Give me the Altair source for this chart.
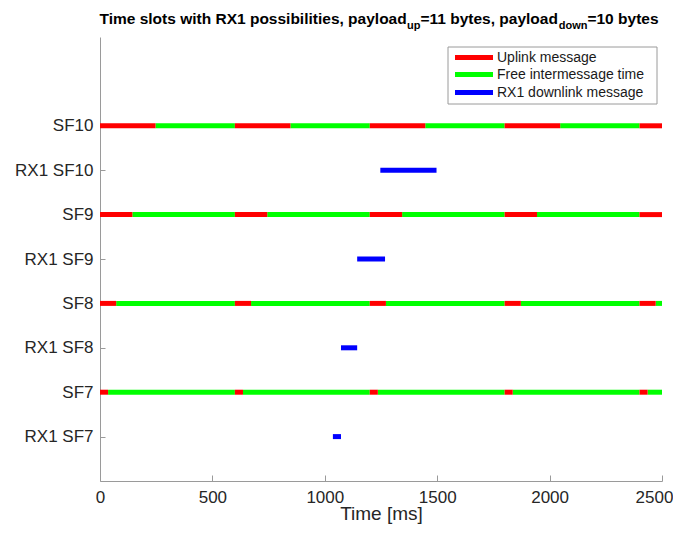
import altair as alt
import pandas as pd

# ---------------- data ----------------
ROW_LABELS = ["RX1 SF7", "SF7", "RX1 SF8", "SF8", "RX1 SF9", "SF9", "RX1 SF10", "SF10"]
KINDS = ["Uplink message", "Free intermessage time", "RX1 downlink message"]
COLORS = ["#ff0000", "#00ff00", "#0000ff"]
X_TICKS = [0, 500, 1000, 1500, 2000, 2500]

UP_SF10 = [(0, 247), (600, 847), (1200, 1447), (1800, 2047), (2400, 2500)]
FREE_SF10 = [(247, 600), (847, 1200), (1447, 1800), (2047, 2400)]
UP_SF9 = [(0, 144), (600, 744), (1200, 1344), (1800, 1944), (2400, 2500)]
FREE_SF9 = [(144, 600), (744, 1200), (1344, 1800), (1944, 2400)]
UP_SF8 = [(0, 72), (600, 672), (1200, 1272), (1800, 1872), (2400, 2472)]
FREE_SF8 = [(72, 600), (672, 1200), (1272, 1800), (1872, 2400), (2472, 2500)]
UP_SF7 = [(0, 36), (600, 636), (1200, 1236), (1800, 1836), (2400, 2436)]
FREE_SF7 = [(36, 600), (636, 1200), (1236, 1800), (1836, 2400), (2436, 2500)]
RX1_SF10 = [(1247, 1497)]
RX1_SF9 = [(1144, 1268)]
RX1_SF8 = [(1072, 1144)]
RX1_SF7 = [(1036, 1072)]

records = []


def add(row, segs, kind):
    for s, e in segs:
        records.append({"row": row, "pos": ROW_LABELS.index(row) + 1,
                        "start": s, "end": e, "kind": kind})


add("SF10", FREE_SF10, KINDS[1]); add("SF10", UP_SF10, KINDS[0])
add("SF9", FREE_SF9, KINDS[1]); add("SF9", UP_SF9, KINDS[0])
add("SF8", FREE_SF8, KINDS[1]); add("SF8", UP_SF8, KINDS[0])
add("SF7", FREE_SF7, KINDS[1]); add("SF7", UP_SF7, KINDS[0])
add("RX1 SF10", RX1_SF10, KINDS[2])
add("RX1 SF9", RX1_SF9, KINDS[2])
add("RX1 SF8", RX1_SF8, KINDS[2])
add("RX1 SF7", RX1_SF7, KINDS[2])
df = pd.DataFrame(records)

# ---------------- styling ----------------
FONT = "Liberation Sans"
AX = "#9a9a9a"
TXT = "#262626"
W, H = 562, 444
Y_VALUES = list(range(1, len(ROW_LABELS) + 1))
label_expr = "[''," + ",".join("'%s'" % r for r in ROW_LABELS) + "][datum.value]"

x_scale = alt.Scale(domain=[0, 2500], nice=False, zero=False)
y_scale = alt.Scale(domain=[0, 10], nice=False, zero=False)

segments = alt.Chart(df).mark_rule(strokeWidth=5).encode(
    x=alt.X("start:Q", scale=x_scale,
            axis=alt.Axis(values=X_TICKS, format="d", title="Time [ms]", ticks=False,
                          tickSize=0, labelPadding=8, grid=False, domainColor=AX,
                          domainWidth=1, labelFont=FONT, labelFontSize=17, labelColor=TXT,
                          labelOffset={"expr": "datum.value == 2500 ? -8 : 0"},
                          titleFont=FONT, titleFontSize=19, titleFontWeight="normal",
                          titleColor=TXT, titleY=38.5, titleBaseline="alphabetic",
                          labelFlush=False)),
    x2="end:Q",
    y=alt.Y("pos:Q", scale=y_scale,
            axis=alt.Axis(values=Y_VALUES, labelExpr=label_expr, title=None,
                          ticks=False, tickSize=0, labelPadding=7, grid=False,
                          domainColor=AX, domainWidth=1, labelFont=FONT,
                          labelFontSize=17, labelColor=TXT)),
    color=alt.Color("kind:N", scale=alt.Scale(domain=KINDS, range=COLORS), legend=None),
)

inward_ticks = alt.Chart(df).mark_point(opacity=0).encode(
    x=alt.X("start:Q", scale=x_scale,
            axis=alt.Axis(orient="bottom", offset=-6, values=X_TICKS, domain=False,
                          labels=False, ticks=True, tickSize=6, tickColor=AX,
                          title=None, grid=False)),
    y=alt.Y("pos:Q", scale=y_scale,
            axis=alt.Axis(orient="left", offset=-5, values=Y_VALUES, domain=False,
                          labels=False, ticks=True, tickSize=5, tickColor=AX,
                          title=None, grid=False)),
)

one = pd.DataFrame({"k": [0]})

# ---------------- title with subscripts ----------------
BOLD_W = {" ": 278, ",": 278, "=": 584, "0": 556, "1": 556, "T": 611, "R": 722, "X": 667,
          "a": 556, "b": 611, "d": 611, "e": 556, "h": 611, "i": 278, "l": 278, "m": 889,
          "n": 611, "o": 611, "p": 611, "s": 556, "t": 333, "u": 611, "w": 778, "y": 556}
MAIN_FS, SUB_FS = 15.5, 11
pieces = [("Time slots with RX1 possibilities, payload", MAIN_FS, -13),
          ("up", SUB_FS, -8.5),
          ("=11 bytes, payload", MAIN_FS, -13),
          ("down", SUB_FS, -8.5),
          ("=10 bytes", MAIN_FS, -13)]
total = sum(sum(BOLD_W[c] for c in t) * fs / 1000 for t, fs, _ in pieces)
cx = W / 2 - total / 2 - 2
title_layers = []
for t, fs, yb in pieces:
    title_layers.append(
        alt.Chart(one).mark_text(text=t, align="left", baseline="alphabetic", font=FONT,
                                 fontWeight="bold", fontSize=fs, color="#000000")
        .encode(x=alt.value(cx), y=alt.value(yb)))
    cx += sum(BOLD_W[c] for c in t) * fs / 1000

# ---------------- legend (MATLAB style box) ----------------
LX0, LX1, LY0, LY1 = 348, 557, 10, 67
ROW_Y = [20.5, 37.5, 55.5]
legend_layers = [
    alt.Chart(one).mark_rect(fill="white", stroke=AX, strokeWidth=1).encode(
        x=alt.value(LX0), x2=alt.value(LX1), y=alt.value(LY0), y2=alt.value(LY1))
]
for name, col, ry in zip(KINDS, COLORS, ROW_Y):
    legend_layers.append(
        alt.Chart(one).mark_rule(strokeWidth=5, color=col).encode(
            x=alt.value(355), x2=alt.value(393), y=alt.value(ry)))
    legend_layers.append(
        alt.Chart(one).mark_text(text=name, align="left", baseline="middle", font=FONT,
                                 fontSize=14, color="#1a1a1a").encode(
            x=alt.value(397), y=alt.value(ry + 0.5)))

chart = alt.layer(segments, inward_ticks, *title_layers, *legend_layers).resolve_axis(
    x="independent", y="independent"
).properties(
    width=W, height=H,
    autosize=alt.AutoSizeParams(type="none"),
    padding={"left": 92, "top": 29, "right": 11, "bottom": 44},
).configure_view(stroke=None)

chart.save("out.html", embed_options={"renderer": "svg", "actions": False})
